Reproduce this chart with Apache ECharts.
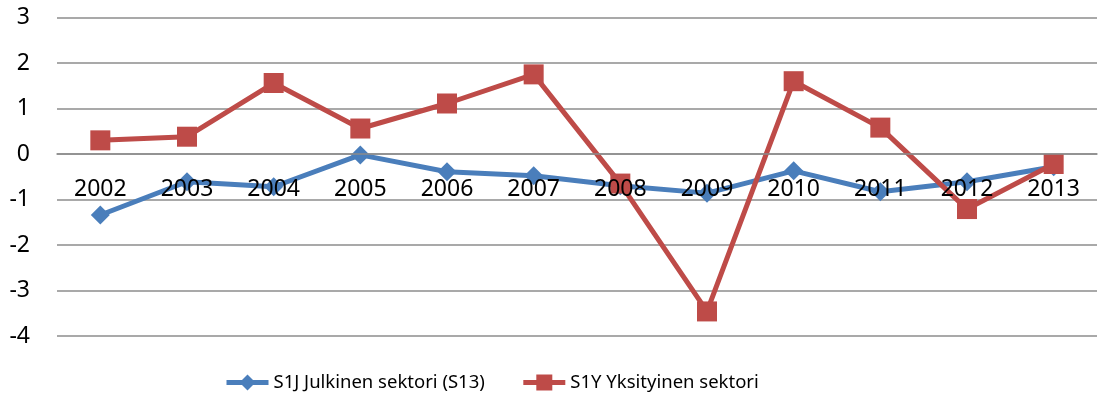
<!DOCTYPE html>
<html>
<head>
<meta charset="utf-8">
<script src="https://cdn.jsdelivr.net/npm/echarts@6/dist/echarts.min.js"></script>
<style>
	html, body { margin: 0; padding: 0; background: #fff; }
	#chart { width: 1101px; height: 405px; }
</style>
</head>
<body>
<div id="chart"></div>
<script>
	// vuodet ja sarjat
	var years = ['2002', '2003', '2004', '2005', '2006', '2007', '2008', '2009', '2010', '2011', '2012', '2013'];
	var julkinen = [-1.34, -0.61, -0.72, -0.02, -0.39, -0.48, -0.7, -0.86, -0.37, -0.83, -0.61, -0.28];
	var yksityinen = [0.3, 0.38, 1.56, 0.56, 1.11, 1.75, -0.65, -3.46, 1.6, 0.58, -1.21, -0.22];
	var yTicks = { min: -4, max: 3, interval: 1 };

	var font = 'Noto Sans';
	var gridTop = 17.5, gridBottom = 69;
	var gridH = 405 - gridTop - gridBottom;
	// x-akselin siirto nollatasolle (onZero ei toiminut)
	var zeroOffset = -gridH * (0 - yTicks.min) / (yTicks.max - yTicks.min);

	var myChart = echarts.init(document.getElementById('chart'));
	var options = {
		animation: false,
		grid: {
			left: 57,
			right: 4,
			top: gridTop,
			bottom: gridBottom
		},
		legend: {
			bottom: 8,
			left: 219,
			itemWidth: 42,
			itemHeight: 20,
			itemGap: 36,
			lineStyle: { width: 5 },
			textStyle: {
				fontFamily: font,
				fontSize: 18.5,
				color: '#000'
			},
			data: ['S1J Julkinen sektori (S13)', 'S1Y Yksityinen sektori']
		},
		xAxis: {
			type: 'category',
			data: years,
			boundaryGap: true,
			offset: zeroOffset,
			z: 10,
			axisLine: {
				show: true,
				onZero: false,
				lineStyle: { color: '#8c8c8c', width: 1.5 }
			},
			axisTick: { show: false },
			axisLabel: {
				margin: 24,
				fontFamily: font,
				fontSize: 23,
				color: '#000'
			}
		},
		yAxis: {
			type: 'value',
			min: yTicks.min,
			max: yTicks.max,
			interval: yTicks.interval,
			axisLine: { show: false },
			axisTick: { show: false },
			axisLabel: {
				margin: 27,
				fontFamily: font,
				fontSize: 23,
				color: '#000'
			},
			splitLine: {
				lineStyle: { color: '#8c8c8c', width: 1.5 }
			}
		},
		series: [{
			name: 'S1J Julkinen sektori (S13)',
			type: 'line',
			data: julkinen,
			symbol: 'diamond',
			symbolSize: 19,
			z: 2,
			lineStyle: { color: '#4a7ebb', width: 5 },
			itemStyle: { color: '#4a7ebb' }
		}, {
			name: 'S1Y Yksityinen sektori',
			type: 'line',
			data: yksityinen,
			symbol: 'rect',
			symbolSize: 20,
			z: 3,
			lineStyle: { color: '#be4b48', width: 5 },
			itemStyle: { color: '#be4b48' }
		}]
	};
	myChart.setOption(options);
</script>
</body>
</html>
